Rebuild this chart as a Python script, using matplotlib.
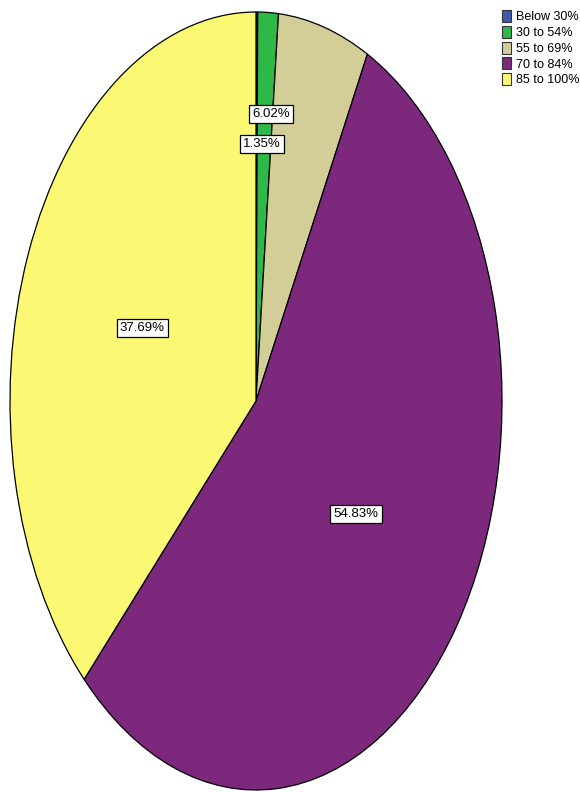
import matplotlib
matplotlib.use('Agg')
import numpy as np
import matplotlib.pyplot as plt
from matplotlib.patches import Patch

categories = ['Below 30%', '30 to 54%', '55 to 69%', '70 to 84%', '85 to 100%']
shares = [0.11, 1.35, 6.02, 54.83, 37.69]
colors = ['#3E58AC', '#2EB848', '#D3CE97', '#7C287D', '#FBF873']

# label placement (angle, radius) for the two thin slices, moved apart like SPSS does
label_spots = {1: (87.9, 0.66), 2: (85.3, 0.74)}

plt.rcParams['font.family'] = ['Liberation Sans Narrow', 'Liberation Sans', 'DejaVu Sans']

W, H = 580, 792
fig = plt.figure(figsize=(W / 100, H / 100), dpi=100)
ax = fig.add_axes([10 / W, 2 / H, 492 / W, 778 / H])

wedges, _, autotexts = ax.pie(
    shares, colors=colors, startangle=90, counterclock=False,
    autopct='%.2f%%', pctdistance=0.5,
    wedgeprops=dict(edgecolor='black', linewidth=0.9),
    textprops=dict(fontsize=9.5, color='black'),
)
ax.set_aspect('auto')
ax.set_xlim(-1.0, 1.0)
ax.set_ylim(-1.0, 1.0)

for i, t in enumerate(autotexts):
    if shares[i] < 1:
        t.set_visible(False)
        continue
    if i in label_spots:
        ang, r = label_spots[i]
        t.set_position((r * np.cos(np.radians(ang)), r * np.sin(np.radians(ang))))
    t.set_bbox(dict(facecolor='white', edgecolor='black', linewidth=0.9, pad=2.2))

handles = [Patch(facecolor=c, edgecolor='#333333', linewidth=0.8) for c in colors]
fig.legend(handles, categories, loc='upper left', bbox_to_anchor=(502 / W, 1 - 10 / H),
           frameon=False, fontsize=9, handlelength=0.75, handleheight=1.1,
           handletextpad=0.35, labelspacing=0.2, borderaxespad=0, borderpad=0)

fig.savefig('out.png', dpi=100)
